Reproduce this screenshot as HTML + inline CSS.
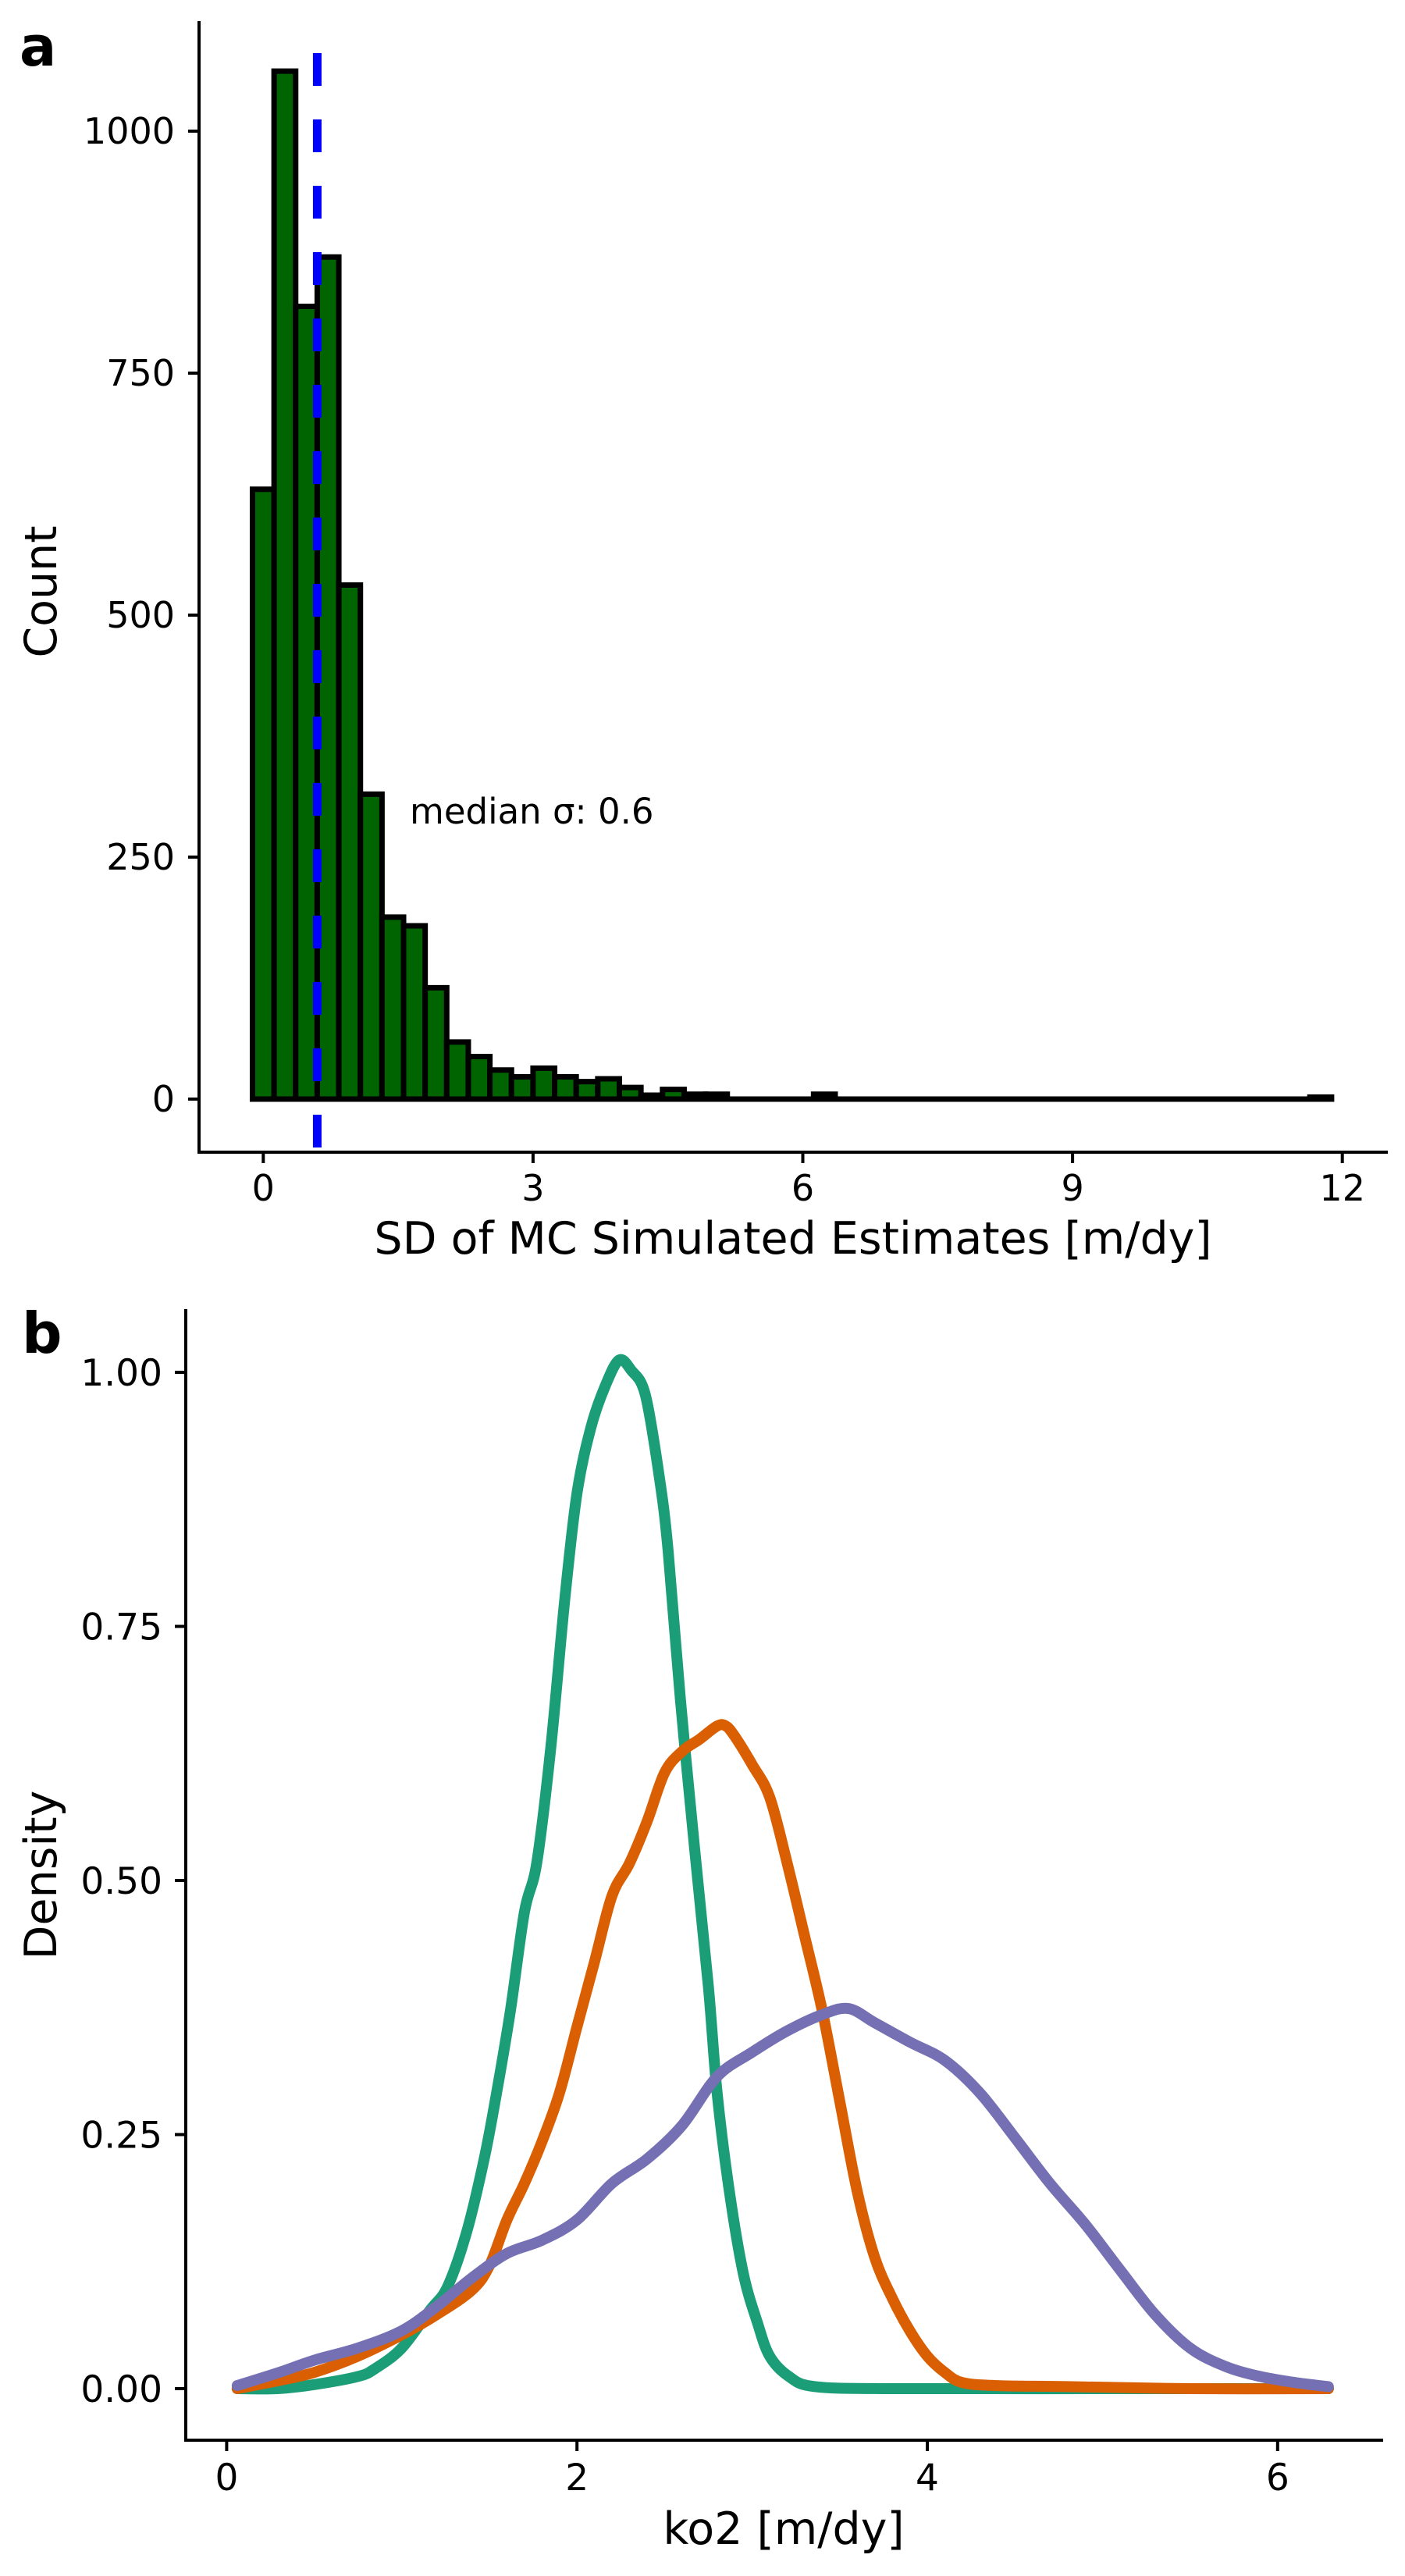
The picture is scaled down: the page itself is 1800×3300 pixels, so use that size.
<!DOCTYPE html>
<html><head><meta charset="utf-8"><style>
html,body{margin:0;padding:0;background:#fff;}
svg{display:block;font-family:"DejaVu Sans","Liberation Sans",sans-serif;}
</style></head><body>
<svg id="fig" width="1800" height="3300" viewBox="0 0 1800 3300">
<g id="pa"></g>
<g id="pb"></g>
</svg>
<script>
// Panel a data
const binStart = -0.12;
const binWidth = 0.24;
const binCounts = [630,1062,819,870,531,315,188,179,115,59,44,30,23,32,23,18,21,12,4,10,5,5,0,0,0,0,5,0,0,0,0,0,0,0,0,0,0,0,0,0,0,0,0,0,0,0,0,0,0,2];
const medianSigma = 0.6;
const xTicksA = [0,3,6,9,12];
const yTicksA = [0,250,500,750,1000];
// Panel b data
const xTicksB = [0,2,4,6];
const yTicksB = [0,0.25,0.5,0.75,1.0];
const yTickLabelsB = ["0.00","0.25","0.50","0.75","1.00"];
const greenX = [0.06,0.29,0.5,0.75,0.85,1.0,1.16,1.26,1.37,1.47,1.54,1.62,1.70,1.77,1.85,1.93,2.0,2.08,2.16,2.24,2.31,2.39,2.47,2.52,2.59,2.67,2.75,2.8,2.87,2.95,3.03,3.1,3.21,3.36,3.82,5.0,6.29];
const greenY = [0,0,0.004,0.012,0.02,0.04,0.077,0.10,0.154,0.226,0.29,0.372,0.469,0.517,0.63,0.776,0.881,0.946,0.986,1.012,1.002,0.978,0.897,0.825,0.679,0.534,0.396,0.291,0.194,0.113,0.065,0.032,0.012,0.002,0,0,0];
const orangeX = [0.06,0.3,0.5,0.75,1.0,1.2,1.4,1.5,1.6,1.7,1.8,1.9,2.0,2.1,2.2,2.3,2.4,2.5,2.6,2.7,2.8,2.85,2.9,3.0,3.1,3.2,3.3,3.4,3.5,3.6,3.7,3.8,3.9,4.0,4.1,4.2,4.4,4.8,5.5,6.29];
const orangeY = [0,0.008,0.016,0.032,0.053,0.073,0.097,0.121,0.166,0.202,0.243,0.291,0.356,0.42,0.485,0.517,0.558,0.606,0.627,0.639,0.652,0.652,0.642,0.614,0.582,0.517,0.445,0.372,0.283,0.194,0.129,0.089,0.057,0.032,0.016,0.006,0.003,0.002,0,0];
const purpleX = [0.06,0.3,0.5,0.75,1.0,1.2,1.4,1.6,1.8,2.0,2.2,2.4,2.6,2.8,3.0,3.2,3.4,3.55,3.7,3.9,4.1,4.3,4.5,4.7,4.9,5.1,5.3,5.5,5.7,5.9,6.1,6.29];
const purpleY = [0.003,0.016,0.028,0.040,0.057,0.081,0.109,0.133,0.146,0.166,0.202,0.226,0.259,0.307,0.331,0.352,0.368,0.374,0.36,0.341,0.323,0.291,0.247,0.202,0.162,0.117,0.073,0.04,0.022,0.012,0.006,0.002];

const NS='http://www.w3.org/2000/svg';
function mk(parent,tag,attrs,text){const e=document.createElementNS(NS,tag);for(const k in attrs)e.setAttribute(k,attrs[k]);if(text!==undefined)e.textContent=text;parent.appendChild(e);return e;}

// ---- Panel a ----
const pa=document.getElementById('pa');
const xa=v=>337.3+115.2*v;
const ya=c=>1408-1.24*c;
binCounts.forEach((c,i)=>{
  const x0=xa(binStart+i*binWidth), x1=xa(binStart+(i+1)*binWidth);
  const h=Math.max(ya(0)-ya(c),0.01);
  const r=mk(pa,'path',{d:'M'+x0+','+ya(0)+' L'+x0+','+(ya(0)-h)+' L'+x1+','+(ya(0)-h)+' L'+x1+','+ya(0)+' Z',fill:'#006400',stroke:'#000','stroke-width':7,'stroke-linejoin':'miter'});
  
  
});
const ml=mk(pa,'line',{x1:xa(medianSigma),x2:xa(medianSigma),y1:68,y2:1476,stroke:'#0000ff','stroke-width':11,'stroke-dasharray':'42 43'});


const mt=mk(pa,'text',{x:525,y:1055,'font-size':45},'median σ: '+medianSigma);


mk(pa,'line',{x1:255,x2:255,y1:27,y2:1478,stroke:'#000','stroke-width':4});
mk(pa,'line',{x1:253,x2:1778,y1:1476,y2:1476,stroke:'#000','stroke-width':4});
yTicksA.forEach(t=>{
  mk(pa,'line',{x1:241,x2:255,y1:ya(t),y2:ya(t),stroke:'#000','stroke-width':4});
  const l=mk(pa,'text',{x:224,y:ya(t)+16,'font-size':46,'text-anchor':'end'},String(t));
  
  
});
xTicksA.forEach(t=>{
  mk(pa,'line',{x1:xa(t),x2:xa(t),y1:1476,y2:1490,stroke:'#000','stroke-width':4});
  const l=mk(pa,'text',{x:xa(t),y:1538,'font-size':46,'text-anchor':'middle'},String(t));
  
  
});
const xta=mk(pa,'text',{x:1016,y:1606,'font-size':57,'text-anchor':'middle'},'SD of MC Simulated Estimates [m/dy]');


const yta=mk(pa,'text',{x:0,y:0,'font-size':57,'text-anchor':'middle',transform:'translate(72,758) rotate(-90)'},'Count');


const la=mk(pa,'text',{x:25,y:84,'font-size':70,'font-weight':'bold'},'a');



// ---- Panel b ----
const pb=document.getElementById('pb');
const xb=v=>290.4+224.4*v;
const yb=v=>3060-1302*v;
mk(pb,'line',{x1:238,x2:238,y1:1677,y2:3128,stroke:'#000','stroke-width':4});
mk(pb,'line',{x1:236,x2:1772,y1:3126,y2:3126,stroke:'#000','stroke-width':4});
yTicksB.forEach((t,i)=>{
  mk(pb,'line',{x1:224,x2:238,y1:yb(t),y2:yb(t),stroke:'#000','stroke-width':4});
  const l=mk(pb,'text',{x:208,y:yb(t)+17,'font-size':47,'text-anchor':'end'},yTickLabelsB[i]);
  
  
});
xTicksB.forEach(t=>{
  mk(pb,'line',{x1:xb(t),x2:xb(t),y1:3126,y2:3140,stroke:'#000','stroke-width':4});
  const l=mk(pb,'text',{x:xb(t),y:3190,'font-size':47,'text-anchor':'middle'},String(t));
  
  
});
function spline(xs,ys){
  const P=xs.map((x,i)=>[xb(x),yb(ys[i])]);
  let d='M'+P[0][0]+','+P[0][1];
  for(let i=0;i<P.length-1;i++){
    const p0=P[Math.max(0,i-1)],p1=P[i],p2=P[i+1],p3=P[Math.min(P.length-1,i+2)];
    const c1=[p1[0]+(p2[0]-p0[0])/6,p1[1]+(p2[1]-p0[1])/6];
    const c2=[p2[0]-(p3[0]-p1[0])/6,p2[1]-(p3[1]-p1[1])/6];
    d+=' C'+c1[0]+','+c1[1]+' '+c2[0]+','+c2[1]+' '+p2[0]+','+p2[1];
  }
  return d;
}
const g=mk(pb,'path',{d:spline(greenX,greenY),fill:'none',stroke:'#1b9e77','stroke-width':14,'stroke-linejoin':'round','stroke-linecap':'round'});


const o=mk(pb,'path',{d:spline(orangeX,orangeY),fill:'none',stroke:'#d95f02','stroke-width':14,'stroke-linejoin':'round','stroke-linecap':'round'});


const p=mk(pb,'path',{d:spline(purpleX,purpleY),fill:'none',stroke:'#7570b3','stroke-width':14,'stroke-linejoin':'round','stroke-linecap':'round'});


const xtb=mk(pb,'text',{x:1004,y:3259,'font-size':57,'text-anchor':'middle'},'ko2 [m/dy]');


const ytb=mk(pb,'text',{x:0,y:0,'font-size':57,'text-anchor':'middle',transform:'translate(72,2402) rotate(-90)'},'Density');


const lb=mk(pb,'text',{x:28,y:1733,'font-size':72,'font-weight':'bold'},'b');


</script>
</body></html>
